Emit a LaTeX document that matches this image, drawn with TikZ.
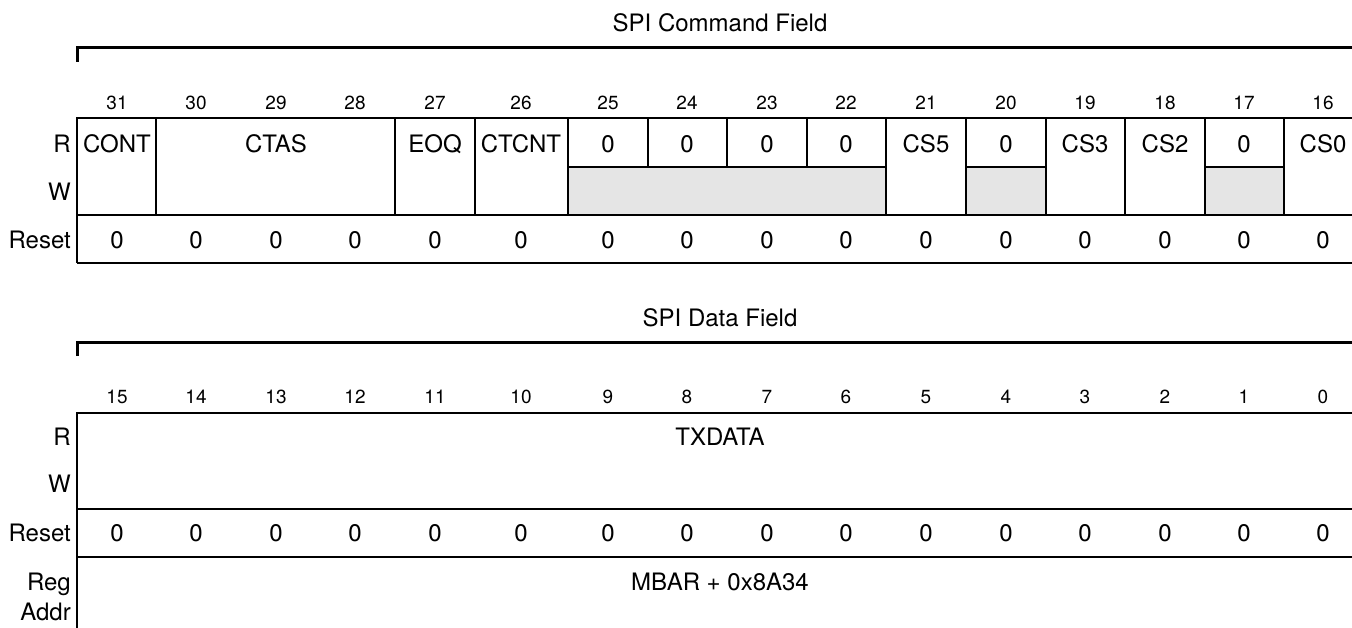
\documentclass[tikz,border=0pt]{standalone}
\usepackage{fontspec}
\setmainfont{TeX Gyre Heros}
\usetikzlibrary{positioning}

\tikzset{
  field/.style={font=\fontsize{24}{30}\selectfont, inner sep=0pt},
  bitnum/.style={font=\fontsize{19}{21}\selectfont, inner sep=0pt},
  rowname/.style={field, anchor=east, align=right},
  regline/.style={line width=1.5pt},
  bracket/.style={line width=3pt},
  rsvd/.style={fill=gray!20}
}

\begin{document}
\begin{tikzpicture}[x=1pt, y=-1pt]
  \useasboundingbox (0,0) rectangle (1352,628);

  % SPI command field
  \node[field] (cmdtitle) at (720,23) {SPI Command Field};
  \draw[bracket] (77,62) -- (77,48) -- (1352,48);
  \foreach \x [count=\i from 0] in {117,196,276,355,435,521,608,687,767,846,926,1006,1085,1165,1244,1323} {
    \pgfmathtruncatemacro{\n}{31-\i}
    \node[bitnum] (cbit\n) at (\x,103) {\n};
    \node[field] (crst\n) at (\x,240) {0};
  }
  \fill[rsvd] (568,167) rectangle (886,215);
  \fill[rsvd] (966,167) rectangle (1046,215);
  \fill[rsvd] (1205,167) rectangle (1284,215);
  \draw[regline] (1352,118) -- (77,118) -- (77,263);
  \draw[regline] (77,215) -- (1352,215);
  \draw[regline] (77,263) -- (1352,263);
  \foreach \x in {156,395,475,568,886,966,1046,1125,1205,1284}
    \draw[regline] (\x,118) -- (\x,215);
  \foreach \x in {648,727,807}
    \draw[regline] (\x,118) -- (\x,167);
  \draw[regline] (568,167) -- (886,167);
  \draw[regline] (966,167) -- (1046,167);
  \draw[regline] (1205,167) -- (1284,167);

  \node[rowname] (cr) at (71,144) {R};
  \node[rowname] (cw) at (71,192) {W};
  \node[rowname] (creset) at (71,240) {Reset};

  \node[field] (cont) at (117,144) {CONT};
  \node[field] (ctas) at (276,144) {CTAS};
  \node[field] (eoq) at (435,144) {EOQ};
  \node[field] (ctcnt) at (521,144) {CTCNT};
  \node[field] (csfive) at (926,144) {CS5};
  \node[field] (csthree) at (1085,144) {CS3};
  \node[field] (cstwo) at (1165,144) {CS2};
  \node[field] (cszero) at (1323,144) {CS0};
  \foreach \x/\n in {608/25,687/24,767/23,846/22,1006/20,1244/17}
    \node[field] (crd\n) at (\x,144) {0};

  % SPI data field
  \node[field] (datatitle) at (720,318) {SPI Data Field};
  \draw[bracket] (77,356) -- (77,342) -- (1352,342);
  \foreach \x [count=\i from 0] in {117,196,276,355,435,521,608,687,767,846,926,1006,1085,1165,1244,1323} {
    \pgfmathtruncatemacro{\n}{15-\i}
    \node[bitnum] (dbit\n) at (\x,397) {\n};
    \node[field] (drst\n) at (\x,533) {0};
  }
  \draw[regline] (1352,413) -- (77,413) -- (77,628);
  \draw[regline] (77,509) -- (1352,509);
  \draw[regline] (77,557) -- (1352,557);

  \node[rowname] (dr) at (71,437) {R};
  \node[rowname] (dw) at (71,484) {W};
  \node[rowname] (dreset) at (71,533) {Reset};
  \node[rowname] (daddr) at (71,597) {Reg\\Addr};

  \node[field] (txdata) at (720,437) {TXDATA};
  \node[field] (mbar) at (720,582) {MBAR + 0x8A34};
\end{tikzpicture}
\end{document}
